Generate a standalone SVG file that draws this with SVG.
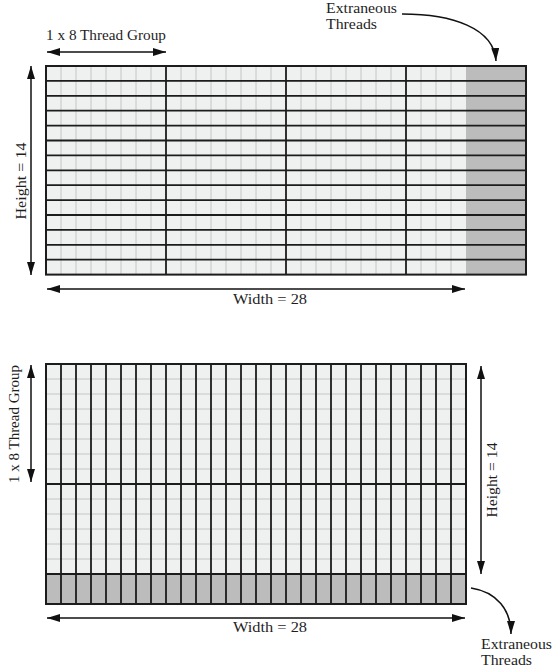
<svg xmlns="http://www.w3.org/2000/svg" width="558" height="669" viewBox="0 0 558 669">
<style>
.bg{fill:#ffffff}
.cell{fill:#eff1f1}
.extra{fill:#bcbcbc}
.thin{stroke:#c4c6c6;stroke-width:1;fill:none}
.thick{stroke:#1c1c1c;stroke-width:1.8;fill:none}
.border{stroke:#1c1c1c;stroke-width:2;fill:none}
.arrow{stroke:#111;stroke-width:1.5;fill:none}
.lbl{font-family:"Liberation Serif","DejaVu Serif",serif;font-size:15px;fill:#1e1e1e}
.ex{font-size:14px}
</style>
<defs>
<marker id="ah" viewBox="0 0 13 8" refX="13" refY="4" markerWidth="13" markerHeight="8" markerUnits="userSpaceOnUse" orient="auto-start-reverse">
<path d="M0,0 L13,4 L0,8 z" fill="#111"/>
</marker>
</defs>
<rect class="bg" x="0" y="0" width="558" height="669"/>

<g id="top-grid">
<rect class="cell" x="46" y="66" width="420" height="208.6"/>
<rect class="extra" x="466" y="66" width="60" height="208.6"/>
<path class="thin" d="M61 66V274.6M76 66V274.6M91 66V274.6M106 66V274.6M121 66V274.6M136 66V274.6M151 66V274.6M181 66V274.6M196 66V274.6M211 66V274.6M226 66V274.6M241 66V274.6M256 66V274.6M271 66V274.6M301 66V274.6M316 66V274.6M331 66V274.6M346 66V274.6M361 66V274.6M376 66V274.6M391 66V274.6M421 66V274.6M436 66V274.6M451 66V274.6"/>
<path class="thick" d="M46 80.9H526M46 95.8H526M46 110.7H526M46 125.6H526M46 140.5H526M46 155.4H526M46 170.3H526M46 185.2H526M46 200.1H526M46 215H526M46 229.9H526M46 244.8H526M46 259.7H526M166 66V274.6M286 66V274.6M406 66V274.6"/>
<rect class="border" x="46" y="66" width="480" height="208.6"/>
</g>

<g id="bottom-grid">
<rect class="cell" x="46" y="364" width="420" height="210"/>
<rect class="extra" x="46" y="574" width="420" height="30"/>
<path class="thin" d="M46 379H466M46 394H466M46 409H466M46 424H466M46 439H466M46 454H466M46 469H466M46 499H466M46 514H466M46 529H466M46 544H466M46 559H466"/>
<path class="thick" d="M46 484H466M46 574H466M61 364V604M76 364V604M91 364V604M106 364V604M121 364V604M136 364V604M151 364V604M166 364V604M181 364V604M196 364V604M211 364V604M226 364V604M241 364V604M256 364V604M271 364V604M286 364V604M301 364V604M316 364V604M331 364V604M346 364V604M361 364V604M376 364V604M391 364V604M406 364V604M421 364V604M436 364V604M451 364V604"/>
<rect class="border" x="46" y="364" width="420" height="240"/>
</g>

<g id="connectors">
<line class="arrow" x1="47" y1="52" x2="166" y2="52" marker-start="url(#ah)" marker-end="url(#ah)"/>
<line class="arrow" x1="31" y1="66" x2="31" y2="275" marker-start="url(#ah)" marker-end="url(#ah)"/>
<line class="arrow" x1="47" y1="289" x2="465" y2="289" marker-start="url(#ah)" marker-end="url(#ah)"/>
<path class="arrow" d="M402 14C452 14 494 28 496 61" marker-end="url(#ah)"/>
<line class="arrow" x1="31" y1="365" x2="31" y2="482" marker-start="url(#ah)" marker-end="url(#ah)"/>
<line class="arrow" x1="481" y1="366" x2="481" y2="574" marker-start="url(#ah)" marker-end="url(#ah)"/>
<line class="arrow" x1="47" y1="618" x2="465" y2="618" marker-start="url(#ah)" marker-end="url(#ah)"/>
<path class="arrow" d="M471 588C497 592 511 610 511 634" marker-end="url(#ah)"/>
</g>

<g id="label-top-group"><text class="lbl" x="46" y="40" textLength="120" lengthAdjust="spacingAndGlyphs">1 x 8 Thread Group</text></g>
<g id="label-top-height"><text class="lbl" transform="translate(25.5 181) rotate(-90)" text-anchor="middle" textLength="77" lengthAdjust="spacingAndGlyphs">Height = 14</text></g>
<g id="label-top-width"><text class="lbl" x="270" y="304" text-anchor="middle" textLength="74" lengthAdjust="spacingAndGlyphs">Width = 28</text></g>
<g id="label-top-extra"><text class="lbl ex" x="326" y="13"><tspan x="326" y="13" textLength="71" lengthAdjust="spacingAndGlyphs">Extraneous</tspan><tspan x="326" y="28.5" textLength="51" lengthAdjust="spacingAndGlyphs">Threads</tspan></text></g>

<g id="label-bottom-group"><text class="lbl" transform="translate(18.5 424) rotate(-90)" text-anchor="middle" textLength="118" lengthAdjust="spacingAndGlyphs">1 x 8 Thread Group</text></g>
<g id="label-bottom-height"><text class="lbl" transform="translate(496.5 480) rotate(-90)" text-anchor="middle" textLength="75" lengthAdjust="spacingAndGlyphs">Height = 14</text></g>
<g id="label-bottom-width"><text class="lbl" x="270" y="632" text-anchor="middle" textLength="74" lengthAdjust="spacingAndGlyphs">Width = 28</text></g>
<g id="label-bottom-extra"><text class="lbl ex" x="481" y="648.5"><tspan x="481" y="648.5" textLength="71" lengthAdjust="spacingAndGlyphs">Extraneous</tspan><tspan x="481" y="665" textLength="51" lengthAdjust="spacingAndGlyphs">Threads</tspan></text></g>
</svg>
